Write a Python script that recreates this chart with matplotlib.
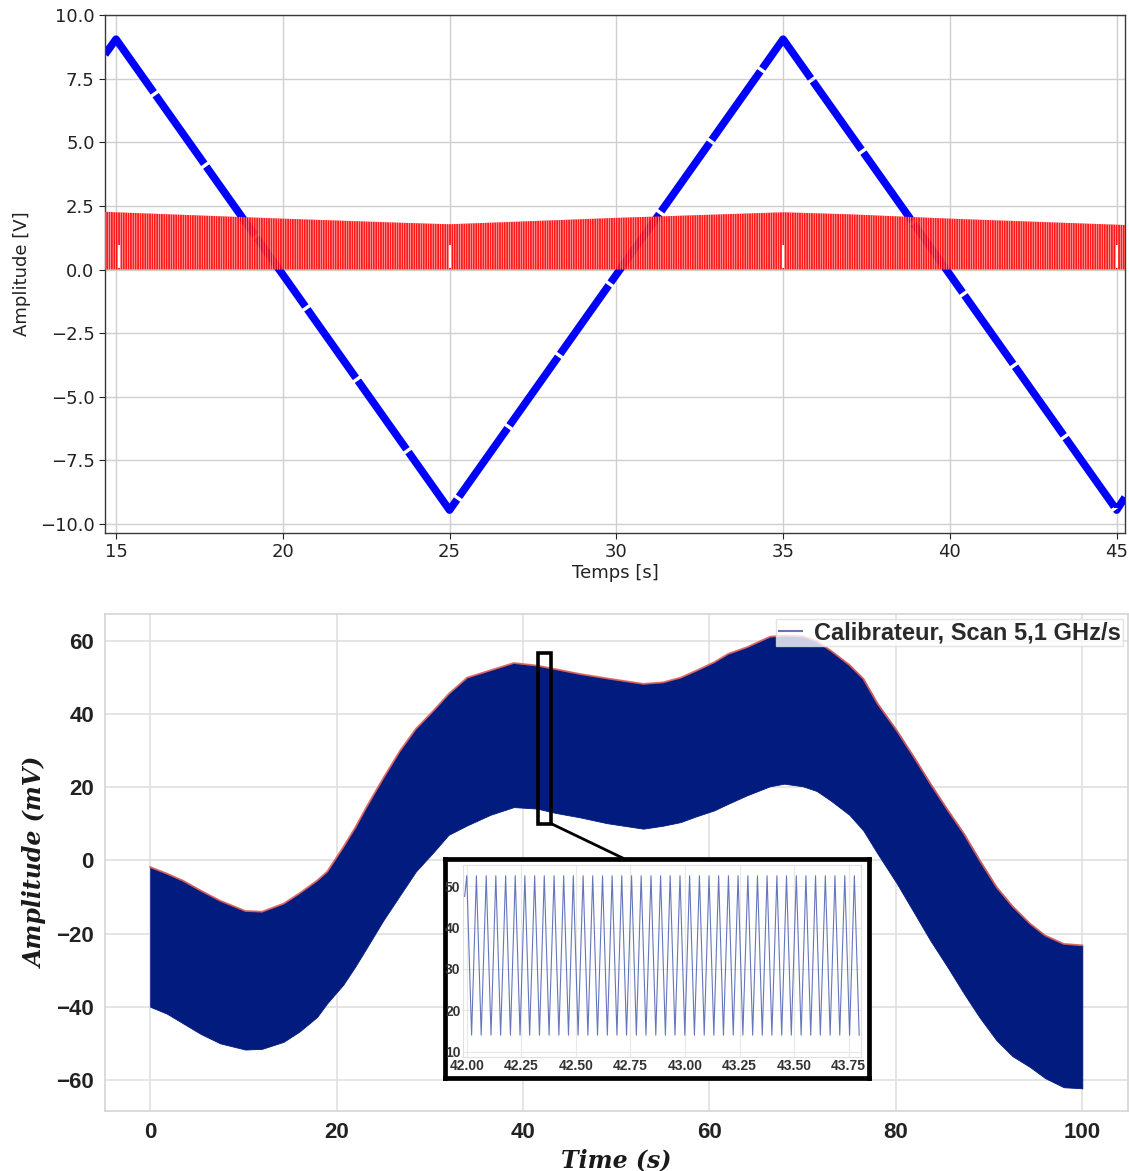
import numpy as np
import matplotlib
matplotlib.use('Agg')
import matplotlib.pyplot as plt
from matplotlib.patches import Rectangle, ConnectionPatch
from matplotlib.lines import Line2D

# ---- top panel: ramp (blue) and photodiode signal band (red)
ramp_t = [14.67, 15.0, 25.0, 35.0, 45.0, 45.25]
ramp_v = [8.45, 9.05, -9.45, 9.05, -9.45, -8.95]

sig_t = [14.67, 15.0, 20.0, 23.5, 25.0, 30.0, 35.0, 37.0, 40.0, 45.25]
sig_top = [2.27, 2.25, 2.0, 1.84, 1.78, 2.03, 2.25, 2.17, 2.0, 1.75]
sig_gap_t = [15.1, 25.0, 35.0, 45.0]

# ---- bottom panel: envelope of the calibrator signal (mV)
env_t = [0, 1.8, 3.5, 5.4, 7.5, 10.2, 12, 14.3, 16, 17.9, 19, 20.7, 22, 23.2, 25,
         26.8, 28.5, 30.4, 32, 34, 36.5, 39, 41.5, 43.5, 46.1, 49, 52.9, 55, 56.9,
         58.5, 60.5, 62, 64, 66.5, 68, 70, 71.5, 73, 75, 76.5, 78, 80.1, 82, 83.7,
         85.5, 87.3, 89, 90.8, 92.5, 94.4, 96, 98, 100]
env_up = [-1.8, -3.6, -5.5, -8.2, -11, -13.8, -14, -11.8, -9, -5.5, -3, 3.6, 9, 14.6, 22.5,
          30, 36, 41, 45.5, 50, 52, 54, 53.3, 52.3, 51, 49.8, 48.3, 48.7, 50,
          51.8, 54.2, 56.5, 58.3, 61.2, 61.5, 61.3, 60, 57.4, 53.5, 49.7, 43, 35.5, 28, 21,
          14, 7.3, 0, -7.3, -12.5, -17.3, -20.5, -22.8, -23.2]
env_low = [-40, -41.9, -44.5, -47.4, -50, -51.7, -51.5, -49.6, -46.8, -42.8, -39, -34, -29, -24, -16.4,
           -9.5, -3, 2.3, 7, 9.6, 12.5, 14.6, 14.2, 13, 11.8, 10.2, 8.7, 9.5, 10.5,
           12, 13.7, 15.5, 17.8, 20.3, 21, 20.3, 19, 16.4, 12.5, 8.2, 2, -6.3, -14.5, -21.9,
           -29, -36.4, -43, -49.2, -53.5, -56.5, -59.5, -62, -62.3]
zoom_box_t = [41.6, 43.0]
zoom_box_v = [10.1, 56.6]

# ---- inset: fringes between 42 and 43.8 s
peak_t = [42.000, 42.044, 42.089, 42.133, 42.178, 42.222, 42.266, 42.311, 42.355,
          42.400, 42.444, 42.488, 42.533, 42.577, 42.622, 42.666, 42.710, 42.755,
          42.799, 42.844, 42.888, 42.932, 42.977, 43.021, 43.066, 43.110, 43.154,
          43.199, 43.243, 43.288, 43.332, 43.376, 43.421, 43.465, 43.510, 43.554,
          43.598, 43.643, 43.687, 43.732, 43.776]
trough_t = [42.022, 42.066, 42.111, 42.155, 42.200, 42.244, 42.288, 42.333, 42.377,
            42.422, 42.466, 42.510, 42.555, 42.599, 42.644, 42.688, 42.732, 42.777,
            42.821, 42.866, 42.910, 42.954, 42.999, 43.043, 43.088, 43.132, 43.176,
            43.221, 43.265, 43.310, 43.354, 43.398, 43.443, 43.487, 43.532, 43.576,
            43.620, 43.665, 43.709, 43.754, 43.798]
peak_level = 52.5
trough_level = 14.0

NAVY = '#021b7e'
W, H = 1129, 1171
fig = plt.figure(figsize=(W / 100, H / 100), dpi=100)

# ================= top panel
ax1 = fig.add_axes([105 / W, 1 - 533 / H, 1020 / W, 518 / H])
ax1.plot(ramp_t, ramp_v, color='blue', lw=5.5, ls=(0, (11, 0.45)),
         solid_capstyle='butt', zorder=2)
plt.rcParams['hatch.linewidth'] = 0.4
ax1.fill_between(sig_t, 0, sig_top, facecolor='red', edgecolor=(1, 1, 1, 0.25),
                 hatch='|||||||', linewidth=0, alpha=0.9, zorder=3)
ax1.vlines(sig_gap_t, 0.05, 0.95, color='white', lw=1.5, zorder=4)
ax1.set_xlim(14.67, 45.25)
ax1.set_ylim(-10.35, 10.0)
ax1.set_xticks([15, 20, 25, 30, 35, 40, 45])
ax1.set_yticks(np.arange(-10, 10.1, 2.5))
ax1.grid(color='#cfcfcf', lw=1.0)
ax1.set_axisbelow(True)
for s in ax1.spines.values():
    s.set_color('#3a3a3a')
    s.set_linewidth(1.0)
ax1.tick_params(labelsize=13, colors='#222222', length=4)
ax1.set_xlabel('Temps [s]', fontsize=13, color='#222222', labelpad=2)
ax1.set_ylabel('Amplitude [V]', fontsize=13, color='#222222', labelpad=6)

# ================= bottom panel
ax2 = fig.add_axes([105 / W, 1 - 1111 / H, 1023 / W, 497 / H])
ax2.fill_between(env_t, env_low, env_up, color=NAVY, lw=0.6, zorder=2)
ax2.plot(env_t, env_up, color='#e0605a', lw=1.3, alpha=0.9, zorder=3)
ax2.add_patch(Rectangle((zoom_box_t[0], zoom_box_v[0]),
                        zoom_box_t[1] - zoom_box_t[0], zoom_box_v[1] - zoom_box_v[0],
                        fill=False, edgecolor='black', lw=2.6, zorder=5))
ax2.set_xlim(-4.85, 104.9)
ax2.set_ylim(-68.5, 67.4)
ax2.set_xticks([0, 20, 40, 60, 80, 100])
ax2.set_yticks([-60, -40, -20, 0, 20, 40, 60])
ax2.grid(color='#e0e0e0', lw=1.2)
ax2.set_axisbelow(True)
for s in ax2.spines.values():
    s.set_color('#d4d4d4')
    s.set_linewidth(1.2)
ax2.tick_params(length=0, pad=8)
tick_font = dict(family=['Liberation Sans Narrow', 'Liberation Sans', 'DejaVu Sans'],
                 weight='bold', size=16, color='#222222')
for lab in ax2.get_xticklabels() + ax2.get_yticklabels():
    lab.set(**tick_font)
ax2.set_xlabel('Time (s)', family='DejaVu Serif', style='italic', weight='bold',
               size=17, color='#1a1a1a', labelpad=4)
ax2.set_ylabel('Amplitude (mV)', family='DejaVu Serif', style='italic', weight='bold',
               size=17, color='#1a1a1a', labelpad=6)
handle = Line2D([], [], color=NAVY, lw=1.5, alpha=0.6)
leg = ax2.legend([handle], ['Calibrateur, Scan 5,1 GHz/s'], loc='upper right',
                 prop=dict(family=['Liberation Sans', 'DejaVu Sans'], weight='bold', size=17),
                 handlelength=1.0, handletextpad=0.5, borderpad=0.1, borderaxespad=0.2,
                 framealpha=0.8, edgecolor='#dddddd', fancybox=False)
for txt in leg.get_texts():
    txt.set_color('#2a2a2a')

# ================= inset
frame = fig.add_axes([445 / W, 1 - 1077.5 / H, 424 / W, 218.5 / H])
frame.set_xticks([])
frame.set_yticks([])
for s in frame.spines.values():
    s.set_color('black')
    s.set_linewidth(3.4)
frame.set_zorder(6)

axi = fig.add_axes([463.3 / W, 1 - 1056.7 / H, 397.4 / W, 191.7 / H])
axi.set_zorder(7)
ins_t = np.empty(len(peak_t) + len(trough_t))
ins_v = np.empty_like(ins_t)
ins_t[0::2] = peak_t
ins_t[1::2] = trough_t
ins_v[0::2] = peak_level
ins_v[1::2] = trough_level
axi.plot(np.r_[41.99, ins_t], np.r_[47.5, ins_v], color='#4a5fb0', lw=0.8, alpha=0.85)
axi.set_xlim(41.984, 43.805)
axi.set_ylim(8.8, 55.1)
axi.set_xticks([42.0, 42.25, 42.5, 42.75, 43.0, 43.25, 43.5, 43.75])
axi.set_xticklabels(['%.2f' % v for v in axi.get_xticks()])
axi.set_yticks([10, 20, 30, 40, 50])
axi.grid(color='#e8e8e8', lw=0.8)
for s in axi.spines.values():
    s.set_color('#e0e0e0')
    s.set_linewidth(0.8)
axi.tick_params(length=0, pad=2)
for lab in axi.get_xticklabels() + axi.get_yticklabels():
    lab.set(family=['Liberation Sans Narrow', 'Liberation Sans', 'DejaVu Sans'],
            weight='bold', size=10, color='#333333')

con = ConnectionPatch(xyA=(zoom_box_t[1], zoom_box_v[0]), coordsA=ax2.transData,
                      xyB=(623.3 / W, 1 - 858.3 / H), coordsB='figure fraction',
                      color='black', lw=2.0, zorder=5)
fig.add_artist(con)

fig.savefig('out.png', dpi=100)
